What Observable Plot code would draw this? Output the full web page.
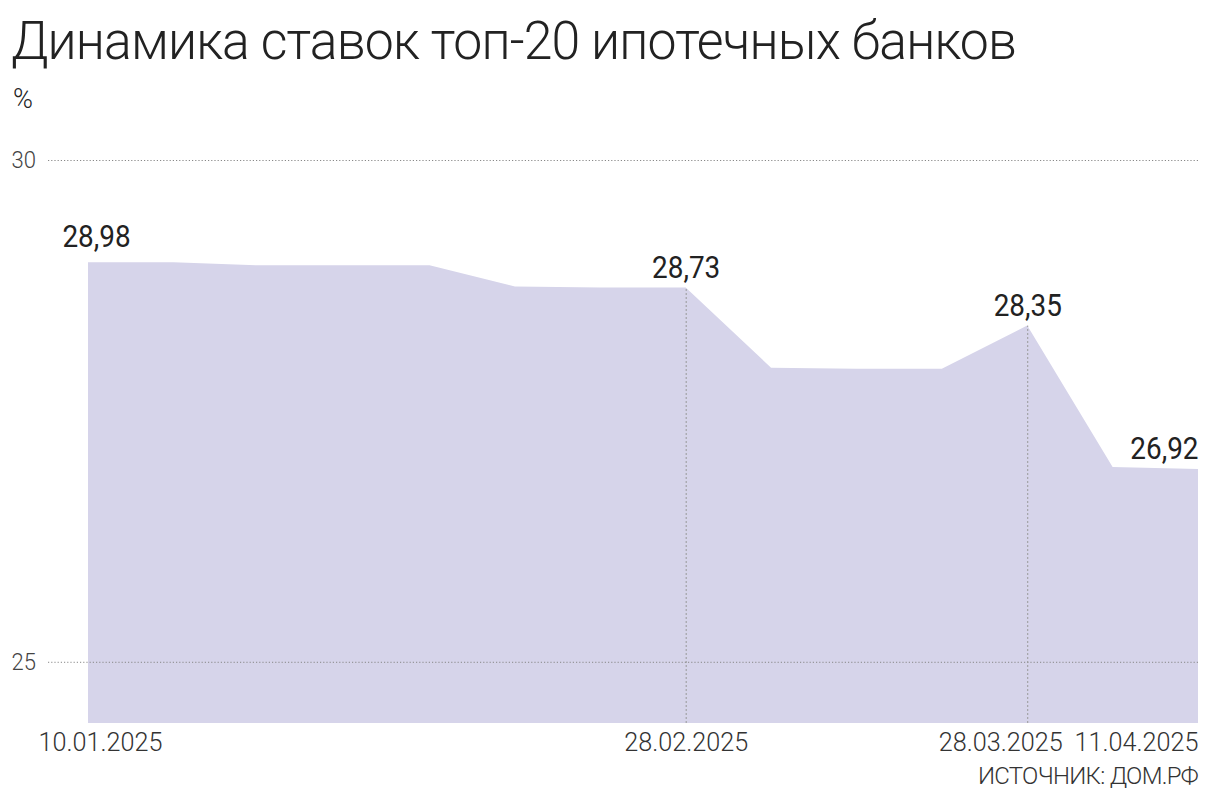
<!DOCTYPE html>
<html>
<head>
<meta charset="utf-8">
<script src="https://cdn.jsdelivr.net/npm/d3@7"></script>
<script src="https://cdn.jsdelivr.net/npm/@observablehq/plot@0.6"></script>
<style>
  html, body { margin: 0; padding: 0; background: #fff; }
  #wrap { position: relative; width: 1222px; height: 800px; font-family: Roboto, "Noto Sans", sans-serif; }
  #title { position: absolute; left: 11px; top: 14px; font-size: 54px; font-weight: 300; color: #222; letter-spacing: -0.9px; line-height: 1; white-space: nowrap; transform: scaleX(0.958); transform-origin: left top; }
  #unit { position: absolute; left: 13px; top: 86px; font-size: 27px; font-weight: 300; color: #222; line-height: 1; }
  #source { position: absolute; right: 24px; top: 764px; font-size: 24px; font-weight: 300; color: #333; letter-spacing: -0.7px; line-height: 1; }
  #chart { position: absolute; left: 0; top: 0; }
</style>
</head>
<body>
<div id="wrap">
  <div id="chart"></div>
  <div id="title">Динамика ставок топ-20 ипотечных банков</div>
  <div id="unit">%</div>
  <div id="source">ИСТОЧНИК: ДОМ.РФ</div>
</div>
<script>
const dates = ["2025-01-10","2025-01-17","2025-01-24","2025-01-31","2025-02-07","2025-02-14","2025-02-21","2025-02-28","2025-03-07","2025-03-14","2025-03-21","2025-03-28","2025-04-04","2025-04-11"];
const rates = [28.98, 28.98, 28.95, 28.95, 28.95, 28.74, 28.73, 28.73, 27.93, 27.92, 27.92, 28.35, 26.94, 26.92];
const labelDates = ["2025-01-10","2025-02-28","2025-03-28","2025-04-11"];
const markerDates = ["2025-02-28","2025-03-28"];
const yTicks = [25, 30];
const xTickDates = ["2025-01-10","2025-02-28","2025-03-28","2025-04-11"];
const xTickLabels = ["10.01.2025","28.02.2025","28.03.2025","11.04.2025"];

const parse = d3.utcParse("%Y-%m-%d");
const data = dates.map((d, i) => ({date: parse(d), rate: rates[i]}));
const byDate = new Map(data.map(d => [+d.date, d]));
const labels = labelDates.map(d => byDate.get(+parse(d)));
const markers = markerDates.map(d => byDate.get(+parse(d)));
const xt = xTickDates.map((d, i) => ({date: parse(d), label: xTickLabels[i]}));
const fmt = v => v.toFixed(2).replace(".", ",");
const yMin = 24.39;
const xStyle = {fontSize: 26, fontWeight: 300, fill: "#333"};
const vStyle = {fontSize: 31, fontWeight: 400, fill: "#222"};

const chart = Plot.plot({
  width: 1222,
  height: 800,
  marginTop: 160,
  marginBottom: 77,
  marginLeft: 88,
  marginRight: 24,
  style: {fontFamily: "Roboto, 'Noto Sans', sans-serif", background: "transparent", overflow: "visible"},
  x: {type: "utc", domain: [parse(dates[0]), parse(dates[dates.length - 1])], axis: null},
  y: {domain: [yMin, 30], axis: null},
  marks: [
    Plot.areaY(data, {x: "date", y1: yMin, y2: "rate", fill: "#d6d4ea"}),
    Plot.ruleY(yTicks, {stroke: "#888", strokeWidth: 1, strokeDasharray: "1.2,2", insetLeft: -40}),
    Plot.ruleX(markers, {x: "date", y1: yMin, y2: "rate", stroke: "#999", strokeWidth: 1, strokeDasharray: "2,2"}),
    Plot.text(yTicks, {x: parse(dates[0]), y: d => d, text: d => String(d), textAnchor: "start", dx: -77, fontSize: 24, fontWeight: 300, fill: "#444"}),
    Plot.text(xt.slice(0, 1), {x: "date", y: yMin, text: "label", textAnchor: "start", lineAnchor: "top", dx: -50, dy: 9, ...xStyle}),
    Plot.text(xt.slice(1, 2), {x: "date", y: yMin, text: "label", textAnchor: "middle", lineAnchor: "top", dy: 9, ...xStyle}),
    Plot.text(xt.slice(2, 3), {x: "date", y: yMin, text: "label", textAnchor: "end", lineAnchor: "top", dx: 35, dy: 9, ...xStyle}),
    Plot.text(xt.slice(3), {x: "date", y: yMin, text: "label", textAnchor: "end", lineAnchor: "top", dy: 9, ...xStyle}),
    Plot.text(labels.slice(0, 1), {x: "date", y: "rate", text: d => fmt(d.rate), textAnchor: "middle", lineAnchor: "bottom", dx: 8, dy: -16, ...vStyle}),
    Plot.text(labels.slice(1, 3), {x: "date", y: "rate", text: d => fmt(d.rate), textAnchor: "middle", lineAnchor: "bottom", dy: -10, ...vStyle}),
    Plot.text(labels.slice(3), {x: "date", y: "rate", text: d => fmt(d.rate), textAnchor: "end", lineAnchor: "bottom", dy: -11, ...vStyle})
  ]
});
// condense labels horizontally about their own anchors
const squeezeMap = new Map([
  ...xTickLabels.map(s => [s, 0.97]),
  ...yTicks.map(v => [String(v), 0.92]),
  ...labels.map(d => [fmt(d.rate), 0.9])
]);
chart.querySelectorAll("text").forEach(el => {
  const k = squeezeMap.get(el.textContent.trim());
  if (k) {
    const t = el.getAttribute("transform") || "";
    el.setAttribute("transform", `${t} scale(${k},1)`);
  }
});
document.getElementById("chart").appendChild(chart);
</script>
</body>
</html>
